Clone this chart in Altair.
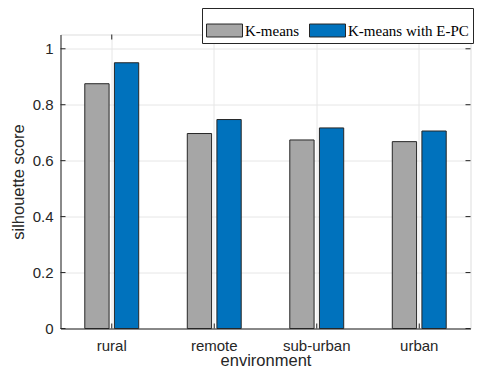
import altair as alt
import pandas as pd

categories = ["rural", "remote", "sub-urban", "urban"]
series = ["K-means", "K-means with E-PC"]
kmeans = [0.875, 0.697, 0.674, 0.668]
kmeans_epc = [0.950, 0.747, 0.717, 0.706]
y_ticks = [0, 0.2, 0.4, 0.6, 0.8, 1.0]
colors = ["#a6a6a6", "#0072bd"]

rows = []
for c, a, b in zip(categories, kmeans, kmeans_epc):
    rows.append({"environment": c, "method": series[0], "score": a})
    rows.append({"environment": c, "method": series[1], "score": b})
df = pd.DataFrame(rows)
ticks_df = pd.DataFrame({"t": y_ticks})
cat_df = pd.DataFrame({"environment": categories})

W, H = 410, 294
ydom = [0, 1.051]

xscale = alt.Scale(domain=categories, paddingInner=0, paddingOuter=0)
yscale = alt.Scale(domain=ydom, nice=False, zero=True)

bars = alt.Chart(df).mark_bar(stroke="#262626", strokeWidth=1).encode(
    x=alt.X("environment:N", scale=xscale, sort=categories,
            axis=alt.Axis(title="environment", labelAngle=0, ticks=False,
                          labelFont="Liberation Sans", labelFontSize=15,
                          labelColor="#262626", labelPadding=10,
                          titleFont="Liberation Sans", titleFontSize=16.5,
                          titleFontWeight="normal", titleColor="#262626",
                          titlePadding=-1, grid=True, gridColor="#e6e6e6",
                          domainColor="#262626")),
    xOffset=alt.XOffset("method:N", sort=series,
                        scale=alt.Scale(paddingInner=0.18, paddingOuter=0.82)),
    y=alt.Y("score:Q", scale=yscale,
            axis=alt.Axis(title="silhouette score", values=y_ticks, ticks=False,
                          format="~g",
                          labelFont="Liberation Sans", labelFontSize=15,
                          labelColor="#262626", labelPadding=7.5,
                          titleFont="Liberation Sans", titleFontSize=16.5,
                          titleFontWeight="normal", titleColor="#262626",
                          titlePadding=5.5, grid=True, gridColor="#e6e6e6",
                          domainColor="#262626")),
    color=alt.Color("method:N", sort=series,
                    scale=alt.Scale(domain=series, range=colors),
                    legend=alt.Legend(
                        title=None, orient="none", legendX=141.5, legendY=-26.5,
                        direction="horizontal",
                        symbolType="M-1,-0.36H1V0.36H-1Z", symbolSize=1296,
                        symbolStrokeColor="#262626", symbolStrokeWidth=1,
                        symbolOpacity=1,
                        labelFont="Liberation Serif", labelFontSize=15,
                        labelColor="#000000", labelOffset=2, columnPadding=7,
                        padding=4, strokeColor="#262626", fillColor="white",
                        labelLimit=400)),
)

yt_left = alt.Chart(ticks_df).mark_rule(color="#262626").encode(
    y=alt.Y("t:Q", scale=yscale), x=alt.value(0), x2=alt.value(5))
yt_right = alt.Chart(ticks_df).mark_rule(color="#262626").encode(
    y=alt.Y("t:Q", scale=yscale), x=alt.value(W - 5), x2=alt.value(W))
xt_bottom = alt.Chart(cat_df).mark_rule(color="#262626").encode(
    x=alt.X("environment:N", scale=xscale, sort=categories),
    y=alt.value(H), y2=alt.value(H - 5))
xt_top = alt.Chart(cat_df).mark_rule(color="#262626").encode(
    x=alt.X("environment:N", scale=xscale, sort=categories),
    y=alt.value(0), y2=alt.value(5))

chart = alt.layer(bars, yt_left, yt_right, xt_bottom, xt_top).properties(
    width=W, height=H,
    autosize=alt.AutoSizeParams(type="none"),
    padding={"left": 52.5, "top": 26.5, "right": 5.5, "bottom": 41.5},
).configure_view(stroke="#262626", strokeWidth=1).configure(background="white")

chart.save("out.html", embed_options={"renderer": "svg", "actions": False})
